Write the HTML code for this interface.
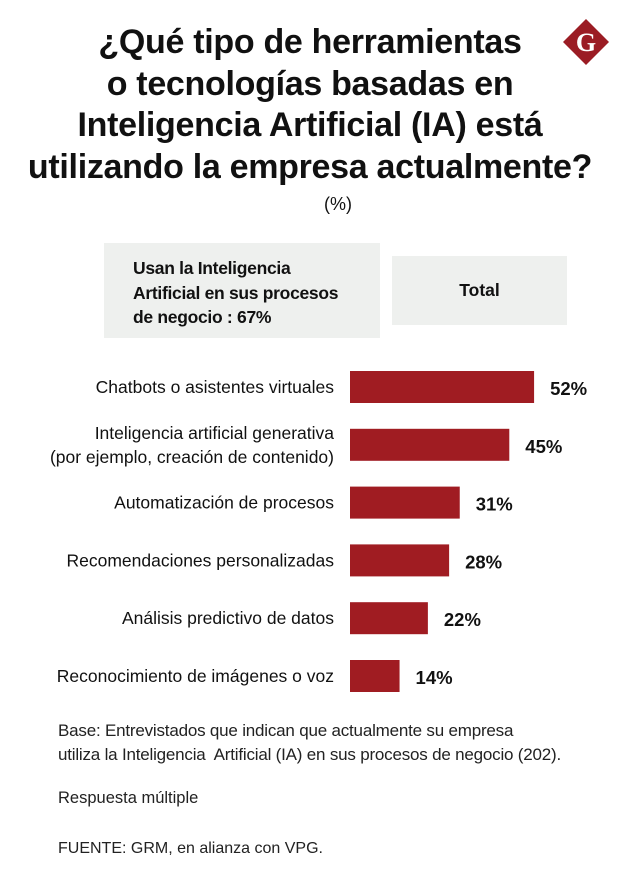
<!DOCTYPE html>
<html><head><meta charset="utf-8"><style>
body{margin:0;width:620px;height:896px;background:#fff;font-family:"Liberation Sans",sans-serif;position:relative;overflow:hidden;color:#111}
.title{position:absolute;left:0;width:620px;top:22px;text-align:center;font-weight:bold;font-size:34px;line-height:41.5px;letter-spacing:-0.3px}
.t{position:absolute}
</style></head><body>
<div class="title">¿Qué tipo de herramientas<br>o tecnologías basadas en<br>Inteligencia Artificial (IA) está<br>utilizando la empresa actualmente?</div>
<div class="t" style="left:324px;top:194px;font-size:18px">(%)</div>
<svg style="position:absolute;left:562px;top:18px" width="48" height="48" viewBox="0 0 48 48"><polygon points="24,1 47,24 24,47 1,24" fill="#9b1c24"/><text x="24" y="33" text-anchor="middle" font-family="Liberation Serif,serif" font-size="26" font-weight="bold" fill="#fff">G</text></svg>
<div style="position:absolute;left:104px;top:243px;width:276px;height:95px;background:#eef0ee"></div>
<div class="t" style="left:133px;top:256px;font-size:17.5px;font-weight:bold;line-height:24.5px;letter-spacing:-0.3px">Usan la Inteligencia<br>Artificial en sus procesos<br>de negocio : 67%</div>
<div style="position:absolute;left:392px;top:256px;width:175px;height:69px;background:#eef0ee;text-align:center;line-height:69px;font-weight:bold;font-size:17.5px">Total</div>
<svg id="chart" style="position:absolute;left:0;top:0" width="620" height="896"></svg>
<div class="t" style="left:58px;top:719px;font-size:17px;line-height:24px;color:#222;letter-spacing:-0.2px;white-space:nowrap">Base: Entrevistados que indican que actualmente su empresa<br>utiliza la Inteligencia&nbsp; Artificial (IA) en sus procesos de negocio (202).</div>
<div class="t" style="left:58px;top:789px;font-size:16.5px;color:#222">Respuesta múltiple</div>
<div class="t" style="left:58px;top:840px;font-size:16px;color:#222">FUENTE: GRM, en alianza con VPG.</div>
<script>
const categories=[["Chatbots o asistentes virtuales"],["Inteligencia artificial generativa","(por ejemplo, creación de contenido)"],["Automatización de procesos"],["Recomendaciones personalizadas"],["Análisis predictivo de datos"],["Reconocimiento de imágenes o voz"]];
const values=[52,45,31,28,22,14];
const valueLabels=["52%","45%","31%","28%","22%","14%"];
const svg=document.getElementById('chart');
const NS='http://www.w3.org/2000/svg';
const x0=350,pxPer=3.54;
function xs(v){return v*pxPer;}
function yTop(i){return 371+i*57.8;}
values.forEach((v,i)=>{
 const y=yTop(i);
 const r=document.createElementNS(NS,'rect');
 r.setAttribute('x',x0);r.setAttribute('y',y);r.setAttribute('width',xs(v));r.setAttribute('height',32);r.setAttribute('fill','#a01c22');
 
 
 svg.appendChild(r);
 const t=document.createElementNS(NS,'text');
 t.setAttribute('x',x0+xs(v)+16);t.setAttribute('y',y+24);t.setAttribute('font-size','18.5');t.setAttribute('font-weight','bold');t.setAttribute('fill','#111');
 t.textContent=valueLabels[i];
 
 
 svg.appendChild(t);
 const lines=categories[i];
 lines.forEach((ln,j)=>{
  const c=document.createElementNS(NS,'text');
  const base=lines.length==1?y+22:y+10+j*24;
  c.setAttribute('x',334);c.setAttribute('y',base);c.setAttribute('text-anchor','end');c.setAttribute('font-size','17.5');c.setAttribute('fill','#111');
  c.textContent=ln;
  
  
  svg.appendChild(c);
 });
});
</script>
</body></html>
